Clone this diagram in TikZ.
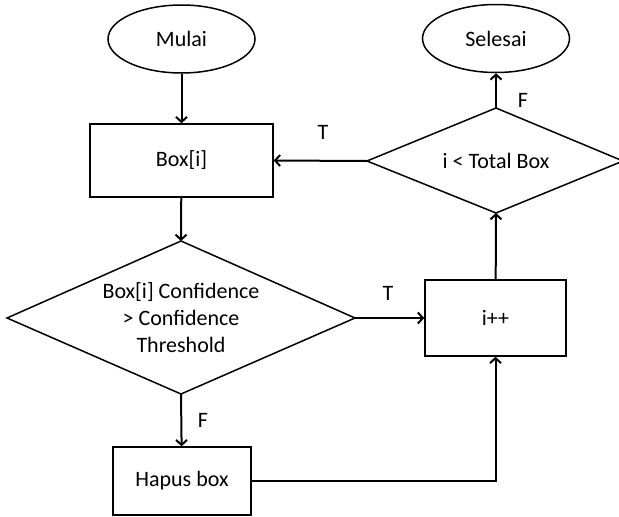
\documentclass[tikz,border=0pt]{standalone}
\usepackage{fontspec}
\setmainfont{Carlito}
\usetikzlibrary{shapes.geometric,arrows.meta}
\begin{document}
\begin{tikzpicture}[x=1pt,y=-1pt,
  base/.style={draw=black,line width=1.5pt,font=\fontsize{22}{27}\selectfont,align=center,inner sep=0pt},
  terminal/.style={base,ellipse,minimum width=147pt,minimum height=68pt},
  process/.style={base,rectangle},
  flow/.style={line width=2pt,-{Straight Barb[length=5pt,width=11pt]}},
  lbl/.style={font=\fontsize{22}{27}\selectfont}]
\useasboundingbox (0,0) rectangle (619,517);
% terminals
\node[terminal] (start) at (181.5,39) {Mulai};
\node[terminal] (stop) at (496,38.5) {Selesai};
% processes
\node[process,minimum width=183pt,minimum height=73pt] (box) at (181.5,160.5) {Box[i]};
\node[process,minimum width=138pt,minimum height=68pt] (hapus) at (182,481) {Hapus box};
\node[process,minimum width=141pt,minimum height=76pt] (inc) at (495.5,318) {i++};
% decisions drawn as explicit diamonds
\coordinate (d1) at (181,318);
\draw[line width=1.5pt] (d1)+(0,-77) coordinate (d1n) -- +(174,0) coordinate (d1e) -- +(0,76) coordinate (d1s) -- +(-174,0) coordinate (d1w) -- cycle;
\node[lbl,align=center] (cond1) at (d1) {Box[i] Confidence\\ > Confidence\\ Threshold};
\coordinate (d2) at (496,161);
\draw[line width=1.5pt] (d2)+(0,-53) coordinate (d2n) -- +(127,0) coordinate (d2e) -- +(0,52) coordinate (d2s) -- +(-129,0) coordinate (d2w) -- cycle;
\node[lbl] (cond2) at (d2) {i < Total Box};
% connectors
\draw[flow] (start) -- (box);
\draw[flow] (box) -- (d1n);
\draw[flow] (d1s) -- (hapus);
\draw[flow] (d1e) -- (inc);
\draw[flow] (hapus.east) -| (inc.south);
\draw[flow] (inc) -- (d2s);
\draw[flow] (d2n) -- (stop);
\draw[flow] (d2w) -- (box.east);
% branch labels
\node[lbl] (tT1) at (388,293) {T};
\node[lbl] (tF1) at (203,420) {F};
\node[lbl] (tT2) at (323,132) {T};
\node[lbl] (tF2) at (523,100) {F};
\end{tikzpicture}
\end{document}
